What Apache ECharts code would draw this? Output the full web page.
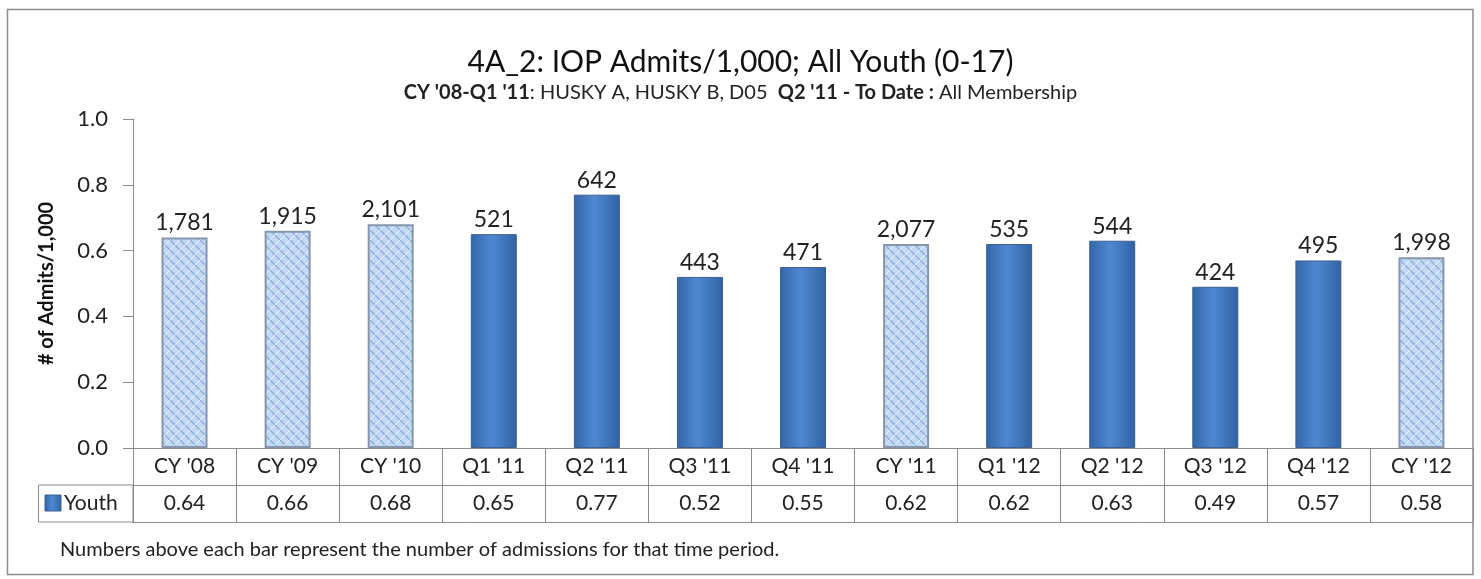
<!DOCTYPE html>
<html>
<head>
<meta charset="utf-8">
<title>IOP Admits/1,000; All Youth</title>
<script src="https://cdn.jsdelivr.net/npm/echarts@6/dist/echarts.min.js"></script>
<style>
  html, body { margin: 0; padding: 0; background: #fff; }
  #chart { width: 1481px; height: 579px; }
</style>
</head>
<body>
<div id="chart"></div>
<script>
// periods on the x axis
const periods = ["CY '08", "CY '09", "CY '10", "Q1 '11", "Q2 '11", "Q3 '11", "Q4 '11",
  "CY '11", "Q1 '12", "Q2 '12", "Q3 '12", "Q4 '12", "CY '12"]
// admits per 1,000 (bar heights, table row)
const youthRates = [0.64, 0.66, 0.68, 0.65, 0.77, 0.52, 0.55, 0.62, 0.62, 0.63, 0.49, 0.57, 0.58]
// number of admissions (labels above bars)
const admissions = [1781, 1915, 2101, 521, 642, 443, 471, 2077, 535, 544, 424, 495, 1998]
const yTicks = [0, 0.2, 0.4, 0.6, 0.8, 1.0]

const FONT = 'Lato, "Noto Sans", sans-serif'
const grid = { left: 133, right: 8, top: 119, bottom: 131 }
const rowH = 37

// hatched fill used by the calendar year bars
function makeHatch () {
  const c = document.createElement('canvas')
  c.width = 10
  c.height = 10
  const ctx = c.getContext('2d')
  ctx.fillStyle = '#c3d8f3'
  ctx.fillRect(0, 0, 10, 10)
  ctx.strokeStyle = '#8db0de'
  ctx.lineWidth = 1.5
  ctx.beginPath()
  ctx.moveTo(0, 0); ctx.lineTo(10, 10)
  ctx.moveTo(-5, 5); ctx.lineTo(5, 15)
  ctx.moveTo(5, -5); ctx.lineTo(15, 5)
  ctx.stroke()
  ctx.strokeStyle = '#e6f0fc'
  ctx.lineWidth = 1
  ctx.beginPath()
  ctx.moveTo(10, 0); ctx.lineTo(0, 10)
  ctx.stroke()
  return c
}
const hatch = makeHatch()

const solidFill = new echarts.graphic.LinearGradient(0, 0, 1, 0, [
  { offset: 0, color: '#3466a8' },
  { offset: 0.45, color: '#4f88d2' },
  { offset: 1, color: '#3163a3' }
])

const barData = youthRates.map((v, i) => {
  const isYear = periods[i].indexOf('CY') === 0
  return {
    value: v,
    itemStyle: isYear
      ? { color: { image: hatch, repeat: 'repeat' }, borderColor: '#8796ad', borderWidth: 2 }
      : { color: solidFill, borderColor: '#3b5f8f', borderWidth: 1 }
  }
})

const chart = echarts.init(document.getElementById('chart'))
const W = 1481
const H = 579
const axisY = H - grid.bottom

chart.setOption({
  animation: false,
  textStyle: { fontFamily: FONT },
  title: [
    {
      text: '4A_2: IOP Admits/1,000; All Youth (0-17)',
      left: 'center',
      top: 42,
      textStyle: { fontFamily: FONT, fontSize: 30, fontWeight: 'normal', color: '#111' }
    },
    {
      text: '{b|CY \'08-Q1 \'11}: HUSKY A, HUSKY B, D05  {b|Q2 \'11 - To Date :} All Membership',
      left: 'center',
      top: 78,
      textStyle: {
        fontFamily: FONT, fontSize: 20, fontWeight: 'normal', color: '#222',
        rich: { b: { fontFamily: FONT, fontSize: 20, fontWeight: 'bold', color: '#222' } }
      }
    }
  ],
  grid: grid,
  xAxis: [
    {
      type: 'category',
      data: periods,
      axisLine: { lineStyle: { color: '#8c8c8c' } },
      axisTick: { show: true, length: rowH * 2, lineStyle: { color: '#8c8c8c' } },
      axisLabel: { fontSize: 21, color: '#222', margin: 8, fontFamily: FONT }
    },
    {
      type: 'category',
      data: periods,
      position: 'bottom',
      offset: rowH,
      axisLine: { show: true, lineStyle: { color: '#8c8c8c' } },
      axisTick: { show: false },
      axisLabel: {
        fontSize: 21, color: '#222', margin: 8, fontFamily: FONT,
        formatter: (v, i) => youthRates[i].toFixed(2)
      }
    },
    {
      type: 'category',
      data: periods,
      position: 'bottom',
      offset: rowH * 2,
      axisLine: { show: true, lineStyle: { color: '#8c8c8c' } },
      axisTick: { show: false },
      axisLabel: { show: false }
    }
  ],
  yAxis: {
    type: 'value',
    min: yTicks[0],
    max: yTicks[yTicks.length - 1],
    interval: 0.2,
    name: '# of Admits/1,000',
    nameLocation: 'middle',
    nameGap: 76,
    nameTextStyle: { fontFamily: FONT, fontSize: 20, fontWeight: 'bold', color: '#111' },
    axisLine: { show: true, lineStyle: { color: '#8c8c8c' } },
    axisTick: { show: true, length: 10, lineStyle: { color: '#8c8c8c' } },
    splitLine: { show: false },
    axisLabel: { fontSize: 22, color: '#222', margin: 25, formatter: v => v.toFixed(1) }
  },
  series: [{
    name: 'Youth',
    type: 'bar',
    barWidth: 46,
    data: barData,
    label: {
      show: true,
      position: 'top',
      distance: 3,
      fontSize: 23,
      color: '#222',
      fontFamily: FONT,
      formatter: p => admissions[p.dataIndex].toLocaleString('en-US')
    }
  }],
  graphic: [
    // outer frame
    {
      type: 'rect', silent: true,
      shape: { x: 7.5, y: 9.5, width: W - 15.5, height: H - 14 },
      style: { fill: 'none', stroke: '#8c8c8c', lineWidth: 1.5 }
    },
    // series cell in the data table
    {
      type: 'rect', silent: true,
      shape: { x: 38.5, y: axisY + rowH, width: grid.left - 38.5, height: rowH },
      style: { fill: 'none', stroke: '#8c8c8c', lineWidth: 1 }
    },
    {
      type: 'rect', silent: true,
      shape: { x: 45, y: axisY + rowH + 10, width: 16, height: 16 },
      style: { fill: solidFill, stroke: '#3b5f8f', lineWidth: 1 }
    },
    {
      type: 'text', silent: true,
      left: 64, top: axisY + rowH + 8,
      style: { text: 'Youth', font: '21px ' + FONT, fill: '#222' }
    },
    {
      type: 'text', silent: true,
      left: 60, top: axisY + rowH * 2 + 18,
      style: {
        text: 'Numbers above each bar represent the number of admissions for that time period.',
        font: '20px ' + FONT, fill: '#222'
      }
    }
  ]
})
</script>
</body>
</html>
